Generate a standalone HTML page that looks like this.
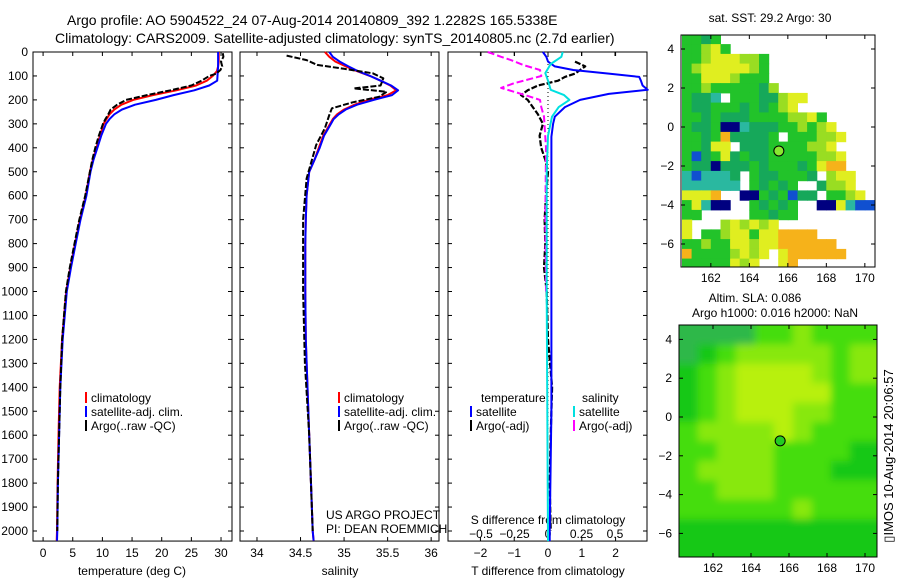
<!DOCTYPE html>
<html><head><meta charset="utf-8"><style>
html,body{margin:0;padding:0;background:#fff;}
svg{display:block;font-family:"Liberation Sans",sans-serif;}
text{fill:#000;}
</style></head><body>
<svg id="fig" width="900" height="580" viewBox="0 0 900 580">
<text x="67" y="25" font-size="14">Argo profile: AO 5904522_24 07-Aug-2014 20140809_392 1.2282S 165.5338E</text>
<text x="55" y="43" font-size="14">Climatology: CARS2009. Satellite-adjusted climatology: synTS_20140805.nc (2.7d earlier)</text>
<g id="layer"></g>
</svg>
<script>
// ---- data ----
const depthLevels = [0,20,40,60,80,100,120,140,160,180,200,220,240,260,280,300,350,400,450,500,600,700,800,900,1000,1200,1400,1600,1800,2000,2040];
const climTemp = [29.6,29.6,29.6,29.5,29.3,28.6,27.6,25.8,22.5,18.5,15.2,13.2,12.0,11.2,10.7,10.2,9.6,9.0,8.4,7.9,7.2,6.2,5.4,4.6,3.9,3.2,2.8,2.6,2.45,2.35,2.3];
const satTemp = [29.5,29.5,29.5,29.5,29.45,29.4,29.35,28.0,25.5,22.0,19.0,15.5,13.3,12.0,11.2,10.6,9.8,9.15,8.5,8.0,7.3,6.3,5.5,4.7,4.0,3.3,2.9,2.7,2.5,2.4,2.35];
const argoTempDepth = [5,20,40,60,75,90,100,120,140,160,180,200,220,240,260,280,300,350,400,450,500,600,700,800,900,1000,1200,1400,1600,1800,2000];
const argoTemp = [30.3,30.4,30.0,30.2,29.9,29.2,28.0,26.7,25.0,21.5,17.5,14.0,12.5,11.4,11.0,10.5,10.1,9.4,8.8,8.3,7.9,7.1,6.1,5.3,4.5,3.85,3.2,2.9,2.7,2.5,2.4];
const climSal = [34.78,34.83,34.9,35.02,35.15,35.3,35.42,35.53,35.6,35.5,35.28,35.12,35.0,34.92,34.87,34.84,34.76,34.71,34.66,34.6,34.57,34.56,34.555,34.555,34.555,34.56,34.58,34.6,34.62,34.64,34.65];
const satSal = [34.83,34.87,34.95,35.05,35.16,35.3,35.42,35.54,35.62,35.55,35.34,35.15,35.02,34.94,34.88,34.85,34.77,34.72,34.66,34.6,34.57,34.56,34.555,34.555,34.555,34.56,34.58,34.6,34.62,34.64,34.65];
const argoSalDepth = [15,34,54,70,89,110,140,152,166,187,210,235,263,318,388,528,700,1000,1300,1600,2000];
const argoSal = [34.34,34.57,34.69,35.0,35.33,35.45,35.42,35.11,35.49,35.40,35.1,34.86,34.83,34.78,34.68,34.57,34.53,34.53,34.55,34.6,34.64];
const satTdiffDepth = [0,20,40,60,75,90,104,120,140,158,175,200,230,270,300,354,500,1000,1500,2000,2042];
const satTdiff = [-0.15,-0.05,0.0,0.2,0.75,1.8,2.7,2.75,2.8,2.95,1.8,0.95,0.5,0.2,0.15,0.1,0.1,0.1,0.1,0.05,0.05];
const argoTdiffDepth = [40,60,75,90,104,120,140,160,180,200,230,260,300,350,400,450,500,600,700,800,900,1000,1200,1400,1600,1800,2000];
const argoTdiff = [0.8,1.1,0.95,0.8,0.5,0.3,-0.3,-0.6,-0.8,-0.6,-0.45,-0.3,-0.15,-0.25,-0.2,-0.08,0.0,-0.06,-0.1,-0.08,-0.12,-0.04,0.0,0.12,0.08,0.05,0.08];
const satSdiffDepth = [0,20,50,88,120,158,180,200,230,270,350,500,1000,2042];
const satSdiff = [0.11,0.1,0.02,-0.02,0.0,0.02,0.12,0.16,0.08,0.03,0.0,-0.01,-0.01,0.0];
const argoSdiffDepth = [0,20,33,55,75,100,130,150,175,200,230,270,400,700,1000];
const argoSdiff = [-0.45,-0.35,-0.28,-0.18,-0.06,-0.05,-0.25,-0.35,-0.2,-0.06,-0.05,-0.03,-0.015,-0.02,-0.015];
const depthTicks = [0,100,200,300,400,500,600,700,800,900,1000,1100,1200,1300,1400,1500,1600,1700,1800,1900,2000];
const tempTicks = [0,5,10,15,20,25,30];
const salTicks = [34,34.5,35,35.5,36];
const tdiffTicks = [-2,-1,0,1,2];
const sdiffTicks = [-0.5,-0.25,0,0.25,0.5];
const lonTicks = [162,164,166,168,170];
const latTicks = [4,2,0,-2,-4,-6];
const sstGrid = [
"ggdg................",
"gglyg...............",
"gglyyyllg...........",
"glyyyyylg...........",
"ggyyylggg...........",
"gglgggggdl..........",
"gddt.gggddlyy.......",
"gddgggdgdgly........",
"ggdgdddggggllyg.....",
"gddgnntdddgglgly....",
"ggdgoddddg.ggglly...",
"ggdyy.dddgggglly....",
"gbdgydgddggggglly...",
"gddndddgdgggdgyoo...",
"tbtttd.gddgggd.lyy..",
"tttttt.gdgdg..dlly..",
"yyyo..nngdgbdd.ggly.",
"gytnn..gdgdg..nnytbb",
"gg.....ggdgg........",
"y...lylyly..........",
"y.gglyygyyoooo......",
"gglggyylyyoooooo....",
"ogggglyly.yoooooo...",
"gggggyly..yo........"];
const slaGrid = [
"ttttbbcbbb",
"tabcccccbc",
"abcddddcbc",
"abcdddddbb",
"abcdddccbb",
"bccccdcbbb",
"bbcccbbbba",
"bccccbbbaa",
"bbcccbbbbb",
"bbbbbbcbbb",
"aaaaaaaaaa",
"aaaaaaaaaa"];
const argoLon = 165.5338, argoLat = -1.2282;

// ---- helpers ----
const NS="http://www.w3.org/2000/svg";
const layer=document.getElementById('layer');
function mk(tag,attrs,parent){const e=document.createElementNS(NS,tag);for(const k in attrs)e.setAttribute(k,attrs[k]);(parent||layer).appendChild(e);return e;}
function txt(x,y,s,size,anchor,parent){const t=mk('text',{x:x,y:y,'font-size':size||12,'text-anchor':anchor||'start'},parent);t.textContent=s;return t;}

const plotTop=52, dScale=0.2395;
const yD=d=>plotTop+d*dScale;
const plotBottom=yD(2042);
const panels=[{x0:33,x1:232,v0:-1.7,v1:31.85},{x0:240,x1:439,v0:33.805,v1:36.09},{x0:448,x1:647,v0:-2.96,v1:2.93}];
function xf(p,v){return p.x0+(v-p.v0)/(p.v1-p.v0)*(p.x1-p.x0);}
const sdScale=v=>548+v*134;

// frames
const names=['temperature-panel','salinity-panel','difference-panel'];
panels.forEach((p,i)=>{
  const g=mk('g',{});
  
  
  p.g=g;
  const r=mk('rect',{x:p.x0,y:plotTop,width:p.x1-p.x0,height:plotBottom-plotTop,fill:'none',stroke:'#000','stroke-width':1},g);
  
  
  depthTicks.forEach(d=>{mk('line',{x1:p.x0,x2:p.x0+4,y1:yD(d),y2:yD(d),stroke:'#000'},g);mk('line',{x1:p.x1,x2:p.x1-4,y1:yD(d),y2:yD(d),stroke:'#000'},g);});
});
depthTicks.forEach(d=>{const t=txt(28,yD(d)+4,String(d),12,'end');

});
function xticks(p,ticks,fn,labY){ticks.forEach(v=>{const x=fn(v);mk('line',{x1:x,x2:x,y1:plotBottom,y2:plotBottom-4,stroke:'#000'},p.g);mk('line',{x1:x,x2:x,y1:plotTop,y2:plotTop+4,stroke:'#000'},p.g);
 const t=txt(x,labY,String(v).replace('-','\u2212'),12,'middle',p.g);
 
 });}
xticks(panels[0],tempTicks,v=>xf(panels[0],v),557);
xticks(panels[1],salTicks,v=>xf(panels[1],v),557);
xticks(panels[2],tdiffTicks,v=>xf(panels[2],v),557);
sdiffTicks.forEach(v=>{const x=sdScale(v);mk('line',{x1:x,x2:x,y1:plotTop,y2:plotTop+4,stroke:'#000'});
 const t=txt(x,538,v===0?'0':String(v).replace('-','\u2212'),12,'middle');
 
 });
[[132,'temperature (deg C)','x-axis-title-temperature'],[340,'salinity','x-axis-title-salinity'],[548,'T difference from climatology','x-axis-title-t-diff']].forEach(a=>{const t=txt(a[0],575,a[1],12,'middle');
 
 });
{const t=txt(548,524,'S difference from climatology',12,'middle');

}
mk('line',{x1:548,x2:548,y1:plotTop,y2:plotBottom,stroke:'#000','stroke-dasharray':'1 3'});

function line(xs,ds,xfn,color,w,dash,name){
  const pts=xs.map((v,i)=>xfn(v).toFixed(1)+','+yD(ds[i]).toFixed(1)).join(' ');
  const e=mk('polyline',{points:pts,fill:'none',stroke:color,'stroke-width':w,'stroke-linejoin':'round'});
  if(dash)e.setAttribute('stroke-dasharray',dash);
  
  
}
const p0=panels[0],p1=panels[1],p2=panels[2];
line(climTemp,depthLevels,v=>xf(p0,v),'#ff0000',2,null,'climatology-temperature-line');
line(satTemp,depthLevels,v=>xf(p0,v),'#0000ff',2,null,'satellite-temperature-line');
line(argoTemp,argoTempDepth,v=>xf(p0,v),'#000',2,'6 2','argo-temperature-line');
line(climSal,depthLevels,v=>xf(p1,v),'#ff0000',2,null,'climatology-salinity-line');
line(satSal,depthLevels,v=>xf(p1,v),'#0000ff',2,null,'satellite-salinity-line');
line(argoSal,argoSalDepth,v=>xf(p1,v),'#000',2,'6 2','argo-salinity-line');
line(argoTdiff,argoTdiffDepth,v=>xf(p2,v),'#000',2.2,'6 2','argo-t-diff-line');
line(argoSdiff,argoSdiffDepth,sdScale,'#ff00ff',2,'7 3','argo-s-diff-line');
line(satTdiff,satTdiffDepth,v=>xf(p2,v),'#0000ff',2,null,'satellite-t-diff-line');
line(satSdiff,satSdiffDepth,sdScale,'#00e0e0',2,null,'satellite-s-diff-line');

function leg(x,y,color,label){const g=mk('g',{});
 
 
 mk('rect',{x:x,y:y-10,width:2,height:11,fill:color},g);txt(x+6,y,label,12,'start',g);}
[['#ff0000','climatology'],['#0000ff','satellite-adj. clim.'],['#000','Argo(..raw -QC)']].forEach((a,i)=>leg(85,402+i*14,a[0],a[1]));
[['#ff0000','climatology'],['#0000ff','satellite-adj. clim.'],['#000','Argo(..raw -QC)']].forEach((a,i)=>leg(338,402+i*14,a[0],a[1]));
{const t=txt(481,402,'temperature');}
{const t=txt(582,402,'salinity');}
leg(470,416,'#0000ff','satellite');leg(470,430,'#000','Argo(-adj)');
leg(573,416,'#00e0e0','satellite');leg(573,430,'#ff00ff','Argo(-adj)');
{const t=txt(326,519,'US ARGO PROJECT');}
{const t=txt(326,533,'PI: DEAN ROEMMICH');}

// maps
const defs=mk('defs',{});const flt=mk('filter',{id:'blur',x:'-10%',y:'-10%',width:'120%',height:'120%'},defs);mk('feGaussianBlur',{stdDeviation:4},flt);
function drawMap(m,grid,colors,name,blur){
  const g=mk('g',{});
  
  
  const lx=lon=>m.x0+(lon-m.lon0)*m.sx, ly=lat=>m.y0lat-lat*m.sy;
  const clip='clip-'+name;
  const cp=mk('clipPath',{id:clip},g);mk('rect',{x:m.x0,y:m.yt,width:m.x1-m.x0,height:m.yb-m.yt},cp);
  const cells=mk('g',{'clip-path':'url(#'+clip+')'},g);
  if(m.bg)mk('rect',{x:m.x0,y:m.yt,width:m.x1-m.x0,height:m.yb-m.yt,fill:m.bg},cells);
  const inner=mk('g',blur?{filter:'url(#blur)'}:{},cells);
  grid.forEach((row,r)=>{for(let c=0;c<row.length;c++){const ch=row[c];if(ch==='.')continue;
    const lon=m.gLon0+c*m.cell, lat=m.gLat0-r*m.cell;
    // extend edge cells outward so blur does not fade at frame edges
    let x=lx(lon), y=ly(lat), w=m.cell*m.sx+0.6, h=m.cell*m.sy+0.6;
    if(blur){if(c===0){x-=12;w+=12;} if(c===row.length-1)w+=14; if(r===0){y-=12;h+=12;} if(r===grid.length-1)h+=14;}
    mk('rect',{x:x.toFixed(1),y:y.toFixed(1),width:w.toFixed(1),height:h.toFixed(1),fill:colors[ch]},inner);}});
  mk('rect',{x:m.x0,y:m.yt,width:m.x1-m.x0,height:m.yb-m.yt,fill:'none',stroke:'#000'},g);
  lonTicks.forEach(v=>{const x=lx(v);mk('line',{x1:x,x2:x,y1:m.yb,y2:m.yb-4,stroke:'#000'},g);mk('line',{x1:x,x2:x,y1:m.yt,y2:m.yt+4,stroke:'#000'},g);
    const t=txt(x,m.yb+15,String(v),12,'middle',g);});
  latTicks.forEach(v=>{const y=ly(v);mk('line',{x1:m.x0,x2:m.x0+4,y1:y,y2:y,stroke:'#000'},g);mk('line',{x1:m.x1,x2:m.x1-4,y1:y,y2:y,stroke:'#000'},g);
    const t=txt(m.x0-7,y+4,String(v).replace('-','\u2212'),12,'end',g);});
  const c=mk('circle',{cx:lx(argoLon),cy:ly(argoLat),r:5,fill:m.mark,stroke:'#000','stroke-width':1},g);
  
  
}
drawMap({x0:681,x1:875,yt:35,yb:267,lon0:160.45,sx:19.25,sy:19.5,y0lat:127,gLon0:160.5,gLat0:4.75,cell:0.5,mark:'#88e830'},sstGrid,
  {g:'#22c32a',d:'#16a85a',t:'#2ab8a0',l:'#99dd22',y:'#e0ee20',o:'#f6b21a',n:'#000080',b:'#1050d0'},'sst-map',false);
drawMap({x0:679,x1:877,yt:325,yb:557,lon0:160.21,sx:19,sy:19.4,y0lat:417,gLon0:160.2,gLat0:4.74,cell:1,mark:'#22cc22',bg:'#44dd0c'},slaGrid,
  {t:'#2db84a',a:'#18c818',b:'#44dd0c',c:'#88e810',d:'#b8f010'},'sla-map',true);
{const t=txt(770,22,'sat. SST: 29.2 Argo: 30',12,'middle');}
{const t=txt(755,302,'Altim. SLA: 0.086',12,'middle');}
{const t=txt(775,317,'Argo h1000: 0.016 h2000: NaN',12,'middle');}
{const t=txt(0,0,'\u25AFIMOS 10-Aug-2014 20:06:57',13,'middle');t.setAttribute('transform','translate(893,456) rotate(-90)');
}
</script>
</body></html>
